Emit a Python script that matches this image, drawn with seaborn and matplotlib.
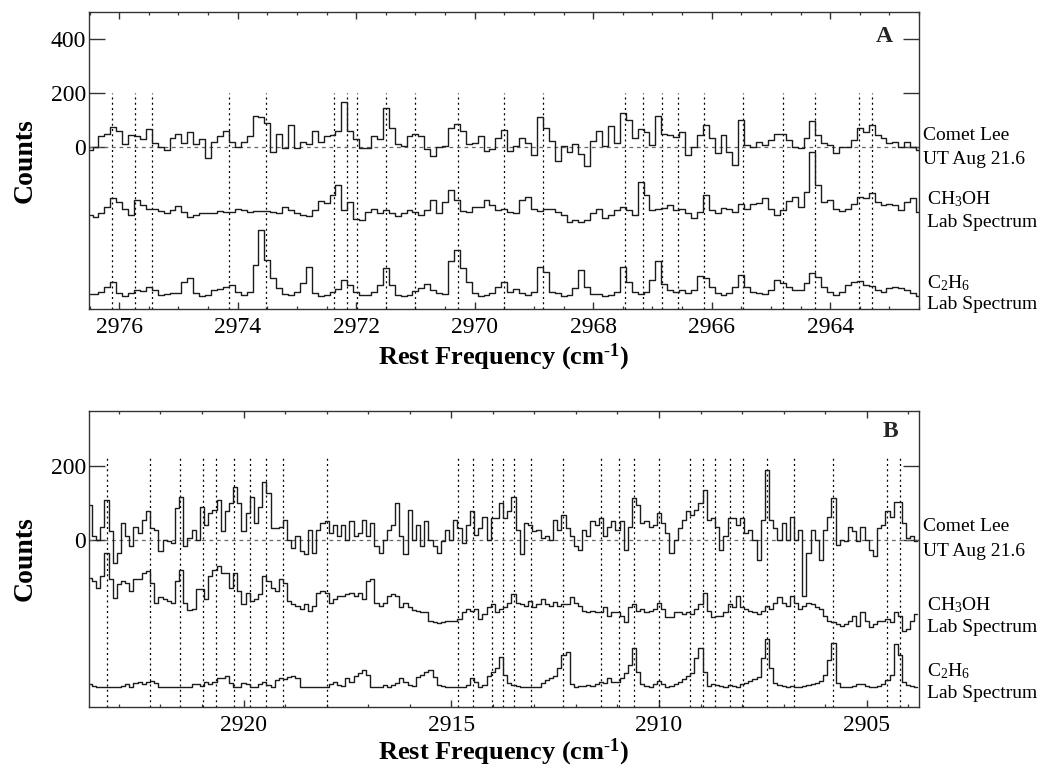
import matplotlib
matplotlib.use("Agg")
import matplotlib.pyplot as plt
import numpy as np
import pandas as pd
import seaborn as sns

# --- data (counts, 0.1 cm-1 bins) ---

# panel A: 2976.5 -> 2962.5 cm-1
a_start, a_step = 2976.5, 0.1
comet_a = [
    -10, 0, 40, 50, 75, 60, 10, 45, 40, 30,
    65, 15, 0, -10, 35, 50, 15, 55, 10, 30,
    -40, 20, 40, 60, 20, 0, 20, 40, 115, 110,
    90, -20, 50, -5, 80, -5, 20, 10, 60, 20,
    40, 45, 60, 165, 60, 30, -5, -5, 40, 28,
    145, 70, 10, 5, 40, 50, 40, -8, -33, 0,
    5, 70, 84, 60, 10, 15, 40, -15, -8, 35,
    62, -15, 5, 35, 15, -30, 110, 70, 22, -50,
    5, -20, 10, -27, -70, 22, 60, 5, 78, 15,
    127, 100, 35, 65, 57, 7, 113, 50, 45, 38,
    57, -30, 0, 45, 82, 32, -23, 45, -17, -67,
    100, 7, 0, 20, 7, 26, 47, 47, 26, 0,
    -5, 32, 95, 45, 13, 7, -23, 0, 0, 26,
    70, 57, 82, 45, 32, 13, 20, 0, 20, 0,
    -10,
]
ch3oh_a = [
    0, -10, 5, 28, 60, 47, 22, 0, 53, 35,
    22, 20, 12, 4, 16, 32, 10, -9, -2, 4,
    4, 7, 14, 10, 10, 22, 16, 10, 12, 12,
    12, 10, 4, 28, 16, 4, 0, -5, 16, 50,
    44, 72, 109, 16, 47, -15, -21, 10, 20, 4,
    16, 4, -6, 4, 16, 10, -2, 16, 53, 4,
    47, 90, 53, 12, 10, 28, 28, 53, 35, 16,
    20, 10, 7, 53, 66, 22, 12, 22, 20, 10,
    -2, -27, -21, -27, -21, 4, 22, -12, -2, 16,
    28, 16, 0, 121, 72, 16, 20, 25, 37, 16,
    22, 4, -12, 10, 72, 16, 4, 25, 20, 10,
    40, 22, 40, 44, 62, 22, 0, 16, 50, 66,
    28, 84, 232, 109, 47, 53, 22, 12, 20, 40,
    66, 60, 81, 47, 35, 40, 35, 16, 47, 60,
    10,
]
c2h6_a = [
    2, 2, 12, 31, 49, 6, -2, 6, 18, 15,
    31, 18, 0, 2, 6, 6, 49, 64, 6, -2,
    0, 18, 22, 31, 37, 12, 0, 12, 110, 240,
    130, 62, 25, 2, 0, 12, 43, 105, 6, -2,
    0, 12, 22, 56, 37, 12, 0, 0, 12, 37,
    101, 37, 0, -2, 0, 15, 25, 40, 18, 6,
    2, 124, 167, 101, 49, 6, -2, 0, 6, 31,
    49, 12, 22, 6, 0, 12, 105, 86, 10, 6,
    -2, 0, 25, 93, 31, 2, 2, -2, 0, 12,
    105, 49, 10, 2, 12, 56, 124, 40, 18, 12,
    18, 6, 18, 72, 62, 31, 6, 0, 6, 31,
    74, 31, 10, 6, 2, 18, 56, 43, 31, 18,
    18, 43, 80, 68, 31, 12, 0, 10, 37, 47,
    52, 37, 35, 18, 12, 25, 31, 25, 18, 6,
    -2,
]
lines_a = [2976.12, 2975.73, 2975.45, 2974.14, 2973.53, 2972.38, 2972.15,
           2971.99, 2971.50, 2971.01, 2970.29, 2969.50, 2968.84, 2967.46,
           2967.16, 2966.84, 2966.57, 2966.13, 2965.47, 2964.80, 2964.26,
           2963.51, 2963.30]

# panel B: 2923.7 -> 2903.8 cm-1
b_start, b_step = 2923.7, 0.1
comet_b = [
    95, 11, 2, 36, 109, 24, -61, -34, 46, 11,
    -16, 37, 20, 55, 78, 33, 29, -29, 2, -3,
    -7, 87, 118, -16, 6, 29, 2, 91, 42, 73,
    82, 109, 24, 78, 100, 145, 100, 24, 73, 118,
    46, 91, 158, 127, 33, 33, 37, 55, 2, -20,
    11, -29, -38, 29, -34, 29, 48, 51, 20, 42,
    11, 42, 2, 51, 11, 20, 55, 11,
    46, -16, -34, 2, 29, 42, 100, 11, -38, 82,
    2, 42, -16, 51, 2, -16, -34, -3, 29, 2,
    55, 33, -7, 42, 78, 15, 33, 64, 2, 60,
    60, 100, 60, 78, 118, 29, -38, 46, 42, 24,
    29, 6, 11, 2, 55, 29, 69, 33, 11, -16,
    -25, 29, 11, 51, 42, 60, 11, 37, 51, 29,
    51, -25, 37, 113, 95, 46,
    51, 37, 42, 73, 46, 20, -34, 2, 33, 55,
    78, 69, 82, 100, 136, 55, 60, 37, -25, 11,
    60, 60, 42, 60, 20, 29, 2, -52, 55, 189,
    55, 33, 2, 46, 2, 64, 2, 29, -150, -34,
    29, 2, -52, 29, 64, 113, -12, 2, -3, 37,
    24, -3, 37, 2, -25, -43, 33, 42, 78, 64,
    104, 104, 46, 6, 11, -3,
]
ch3oh_b = [
    99, 90, 72, 104, 166, 95, 43, 81, 90, 86,
    63, 95, 95, 112, 117, 86, 32, 46, 41, 37,
    32, 90, 121, 32, 13, 14, 68, 68, 41, 104,
    121, 132, 112, 112, 72, 112, 63, 28, 59, 37,
    41, 55, 104, 90, 72, 63, 95, 86, 37, 28,
    23, 14, 28, 10, 23, 59, 63, 59, 32, 41,
    50, 50, 55, 59, 50, 59, 41, 90,
    95, 32, 23, 32, 50, 55, 50, 19, 32, 19,
    13, 10, 6, 6, -17, -21, -24, -21, -19, -17,
    -17, -12, 6, 14, 10, 14, -12, 1, 19, 28,
    6, 14, 19, 32, 55, 32, 28, 23, 37, 19,
    28, 41, 28, 23, 34, 23, 28, 28, 46, 30,
    23, 10, 7, 10, 7, 6, 19, -3, 7, 6,
    -3, -21, 19, 28, 10, 14,
    6, 10, 14, 32, 14, -8, -8, 6, 6, 1,
    6, 1, 14, 28, 59, 10, -8, -3, -3, 6,
    28, 19, 50, 19, 14, 10, 6, 1, 10, 23,
    14, 32, 46, 32, 23, 50, 32, 14, 23, 32,
    28, 19, 14, -3, -17, -21, -26, -30, -26, -17,
    -3, -30, 6, -17, -35, -26, -17, -17, -12, -21,
    6, -3, -44, -39, -17, 1,
]
c2h6_b = [
    6, 3, 0, 0, 0, 0, 0, 0, 3, 6,
    0, 9, 13, 6, 13, 15, 9, 0, 0, 0,
    0, 0, 0, 0, 0, 6, 6, 3, 13, 6,
    13, 22, 22, 29, 9, 0, 0, 9, 6, 0,
    0, 6, 13, 4, 0, 18, 24, 21, 27, 29,
    22, 0, 0, 0, 0, 0, 0, 0, 6, 12,
    4, 3, 24, 13, 29, 36, 45, 31,
    0, 0, 0, 4, 0, 4, 9, 24, 13, 4,
    3, 27, 31, 40, 45, 27, 4, 3, 0, 0,
    0, 0, 0, 4, 22, 13, 0, 4, 29, 40,
    49, 80, 31, 9, 4, 3, 0, 0, 0, 0,
    0, 9, 18, 22, 29, 49, 85, 94, 6, 0,
    3, 3, 4, 3, 6, 13, 9, 22, 13, 13,
    22, 36, 58, 103, 40, 6,
    3, 0, 6, 15, 6, 0, 3, 6, 12, 21,
    29, 36, 76, 104, 40, 3, 6, 4, 3, 0,
    4, 3, 0, 6, 9, 15, 21, 27, 76, 129,
    49, 9, 4, 3, 0, 3, 0, 0, 3, 4,
    6, 9, 15, 31, 71, 119, 9, 0, 0, 0,
    3, 6, 6, 3, 0, 0, 3, 6, 18, 31,
    116, 85, 13, 4, 3, 0,
]
lines_b = [2923.29, 2922.26, 2921.53, 2920.97, 2920.67, 2920.23, 2919.84,
           2919.46, 2919.04, 2917.98, 2914.84, 2914.48, 2914.02, 2913.76,
           2913.50, 2913.09, 2912.32, 2911.39, 2910.96, 2910.59, 2910.01,
           2909.25, 2908.94, 2908.65, 2908.28, 2907.98, 2907.39, 2906.75,
           2905.80, 2904.50, 2904.20]

assert len(comet_a) == len(ch3oh_a) == len(c2h6_a) == 141
assert len(comet_b) == len(ch3oh_b) == len(c2h6_b) == 200

# vertical offsets of the stacked lab spectra
offsets_a = {"comet": 0, "ch3oh": -250, "c2h6": -548}
offsets_b = {"comet": 0, "ch3oh": -200, "c2h6": -395}


def build_frame(start, step, series, offsets):
    parts = []
    for name, vals in series.items():
        freq = np.round(start - step * np.arange(len(vals)), 2)
        parts.append(pd.DataFrame({"freq": freq,
                                   "counts": np.asarray(vals) + offsets[name],
                                   "trace": name}))
    return pd.concat(parts, ignore_index=True)


df_a = build_frame(a_start, a_step,
                   {"comet": comet_a, "ch3oh": ch3oh_a, "c2h6": c2h6_a}, offsets_a)
df_b = build_frame(b_start, b_step,
                   {"comet": comet_b, "ch3oh": ch3oh_b, "c2h6": c2h6_b}, offsets_b)

# --- style ---
sns.set_theme(style="ticks")
plt.rcParams["font.family"] = ["Liberation Serif", "DejaVu Serif"]
plt.rcParams["mathtext.fontset"] = "custom"
plt.rcParams["mathtext.rm"] = "Liberation Serif"
plt.rcParams["mathtext.bf"] = "Liberation Serif:bold"
plt.rcParams["mathtext.it"] = "Liberation Serif:italic"
plt.rcParams["axes.edgecolor"] = "#333333"
plt.rcParams["axes.linewidth"] = 1.0

ink = "#1c1c1c"
palette = {"comet": ink, "ch3oh": ink, "c2h6": ink}

fig = plt.figure(figsize=(10.42, 7.70), dpi=100)
ax_a = fig.add_axes([0.0854, 0.5987, 0.7966, 0.3857])
ax_b = fig.add_axes([0.0854, 0.0818, 0.7966, 0.3848])

panels = [
    (ax_a, df_a, lines_a, 200, (2976.51, 2962.5), (-600, 500), [0, 200, 400], 2, 0.5,
     "A", (0.958, 0.919), -0.111,
     [(1.005, 41, "Comet Lee"), (1.005, -48, "UT Aug 21.6"),
      (1.010, -193, "CH$_3$OH"), (1.010, -278, "Lab Spectrum"),
      (1.010, -504, "C$_2$H$_6$"), (1.010, -585, "Lab Spectrum")]),
    (ax_b, df_b, lines_b, 230, (2923.72, 2903.74), (-450, 350), [0, 200], 5, 1,
     "B", (0.966, 0.931), -0.101,
     [(1.005, 37, "Comet Lee"), (1.005, -30, "UT Aug 21.6"),
      (1.010, -175, "CH$_3$OH"), (1.010, -236, "Lab Spectrum"),
      (1.010, -354, "C$_2$H$_6$"), (1.010, -413, "Lab Spectrum")]),
]

for (ax, df, vlines, vtop, xlim, ylim, yticks, xmaj, xmin_, letter, letter_xy,
     xlab_y, labels) in panels:
    # dotted line markers
    ax.vlines(vlines, ylim[0], vtop, colors="black", linewidth=0.9,
              linestyles=(0, (1.6, 2.6)), zorder=1)
    # zero level of the comet spectrum
    ax.axhline(0, color="#666666", linewidth=0.9, linestyle=(0, (3, 3)), zorder=1)

    sns.lineplot(data=df, x="freq", y="counts", hue="trace", palette=palette,
                 estimator=None, legend=False, drawstyle="steps-mid",
                 linewidth=1.0, ax=ax, zorder=2)

    ax.set_xlim(*xlim)
    ax.set_ylim(*ylim)
    ax.set_yticks(yticks)
    ax.set_yticklabels([str(t) for t in yticks])
    ax.xaxis.set_major_locator(plt.MultipleLocator(xmaj))
    ax.xaxis.set_minor_locator(plt.MultipleLocator(xmin_))

    ax.tick_params(axis="x", which="both", direction="in", top=True, bottom=True,
                   labelsize=17, pad=6, color="#333333", labelcolor="black")
    ax.tick_params(axis="x", which="major", length=5, width=1)
    ax.tick_params(axis="x", which="minor", length=2.5, width=0.9)
    ax.tick_params(axis="y", which="major", direction="in", left=True, right=True,
                   length=11.5, width=1, labelsize=17, pad=2, color="#333333",
                   labelcolor="black")
    ax.tick_params(axis="y", which="minor", left=False, right=False)

    ax.set_ylabel("Counts", fontsize=20, fontweight="bold", color="black")
    ax.yaxis.set_label_coords(-0.062, 0.5)
    ax.set_xlabel(r"Rest Frequency (cm$^{\mathbf{\text{-}1}}$)", fontsize=19,
                  fontweight="bold", color="black")
    ax.xaxis.set_label_coords(0.5, xlab_y)

    ax.text(letter_xy[0], letter_xy[1], letter, transform=ax.transAxes,
            fontsize=17, fontweight="bold", ha="center", va="center")

    for lx, ly, txt in labels:
        ax.text(lx, ly, txt, transform=ax.get_yaxis_transform(), fontsize=14,
                ha="left", va="center", clip_on=False, color="black")

    for side in ax.spines.values():
        side.set_color("#333333")

fig.savefig("out.png", dpi=100)
